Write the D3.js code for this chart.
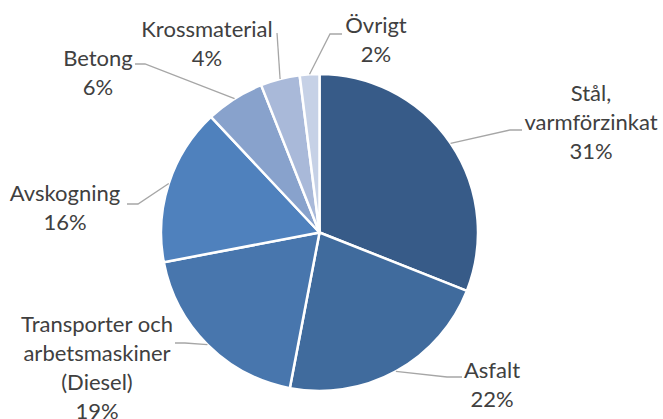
<!DOCTYPE html>
<html>
<head>
<meta charset="utf-8">
<script src="https://cdn.jsdelivr.net/npm/d3@7"></script>
<style>
  body { margin: 0; background: #fff; }
  svg { display: block; }
  .lbl { font-family: Lato, "Liberation Sans", sans-serif; font-size: 22px; fill: #404040; }
</style>
</head>
<body>
<div id="chart"></div>
<script>
// chart data
var categories = ["Stål, varmförzinkat", "Asfalt", "Transporter och arbetsmaskiner (Diesel)", "Avskogning", "Betong", "Krossmaterial", "Övrigt"];
var values = [31, 22, 19, 16, 6, 4, 2];
var labelLines = [
	["Stål,", "varmförzinkat", "31%"],
	["Asfalt", "22%"],
	["Transporter och", "arbetsmaskiner", "(Diesel)", "19%"],
	["Avskogning", "16%"],
	["Betong", "6%"],
	["Krossmaterial", "4%"],
	["Övrigt", "2%"]
];
var colors = ["#375B88", "#406B9D", "#4876AD", "#4F81BD", "#88A2CC", "#A9B9D9", "#C6D1E6"];

// label placement: text centre x, first baseline y, leader bend point, leader end point
var layout = [
	{ x: 591, y: 101, bend: [510, 130], end: [522, 130] },
	{ x: 492, y: 378, bend: [447, 377], end: [462, 377] },
	{ x: 97, y: 332, bend: [185, 343], end: [175, 343] },
	{ x: 65, y: 201, bend: [138, 204], end: [127, 204] },
	{ x: 98, y: 66, bend: [145, 64], end: [135, 64] },
	{ x: 207, y: 37, bend: [277, 33], end: [277, 33] },
	{ x: 376, y: 33, bend: [330, 34], end: [342, 34] }
];

var width = 663, height = 419;
var cx = 319.5, cy = 232.5, radius = 158.5;
var lineHeight = 29;

var svg = d3.select("#chart").append("svg")
	.attr("width", width)
	.attr("height", height);

var pie = d3.pie().sort(null).value(function(d) { return d; });
var arcs = pie(values);

var arc = d3.arc().innerRadius(0).outerRadius(radius);
var edgeArc = d3.arc().innerRadius(radius).outerRadius(radius);

var g = svg.append("g").attr("transform", "translate(" + cx + "," + cy + ")");

g.selectAll("path.slice")
	.data(arcs)
	.enter().append("path")
	.attr("class", "slice")
	.attr("d", arc)
	.attr("fill", function(d, i) { return colors[i]; })
	.attr("stroke", "#fff")
	.attr("stroke-width", 2.5)
	.attr("stroke-linejoin", "round");

// leader lines from slice edge to label
svg.selectAll("polyline.leader")
	.data(arcs)
	.enter().append("polyline")
	.attr("class", "leader")
	.attr("points", function(d, i) {
		var c = edgeArc.centroid(d);
		var p0 = [cx + c[0], cy + c[1]];
		var L = layout[i];
		return [p0, L.bend, L.end].map(function(p) { return p.join(","); }).join(" ");
	})
	.attr("fill", "none")
	.attr("stroke", "#A6A6A6")
	.attr("stroke-width", 1.3);

var labels = svg.selectAll("text.lbl")
	.data(labelLines)
	.enter().append("text")
	.attr("class", "lbl")
	.attr("text-anchor", "middle")
	.attr("x", function(d, i) { return layout[i].x; })
	.attr("y", function(d, i) { return layout[i].y; });

labels.selectAll("tspan")
	.data(function(d, i) { return d.map(function(t) { return { t: t, i: i }; }); })
	.enter().append("tspan")
	.attr("x", function(d) { return layout[d.i].x; })
	.attr("dy", function(d, j) { return j === 0 ? 0 : lineHeight; })
	.text(function(d) { return d.t; });
</script>
</body>
</html>
